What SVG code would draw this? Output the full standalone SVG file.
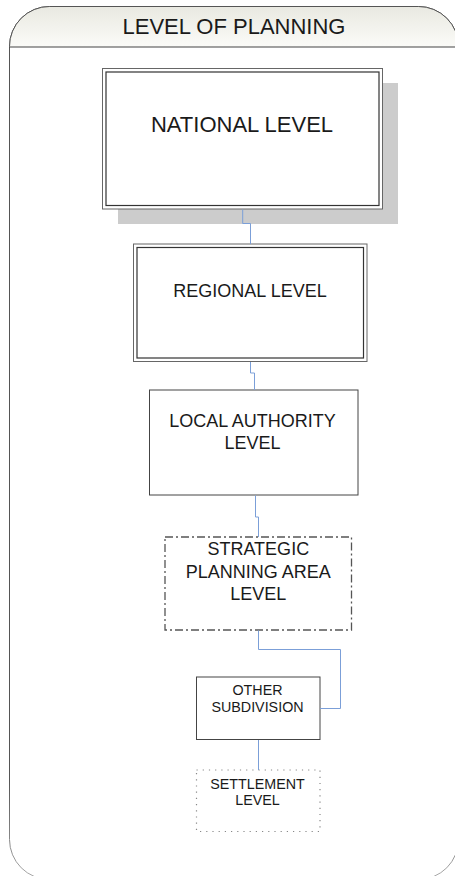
<svg xmlns="http://www.w3.org/2000/svg" width="455" height="876" viewBox="0 0 455 876">
  <defs>
    <linearGradient id="hdr" x1="0" y1="0" x2="0" y2="1">
      <stop offset="0" stop-color="#e9e9e1"/>
      <stop offset="1" stop-color="#fbfbf8"/>
    </linearGradient>
    <linearGradient id="frameStroke" gradientUnits="userSpaceOnUse" x1="0" y1="780" x2="0" y2="880">
      <stop offset="0" stop-color="#555555"/>
      <stop offset="1" stop-color="#aaaaaa"/>
    </linearGradient>
  </defs>
  <style>
    text { font-family: "Liberation Sans", Arial, sans-serif; fill: #1a1a1a; text-anchor: middle; }
    .conn { fill: none; stroke: #7b9fd8; stroke-width: 1; }
    .box { fill: #ffffff; }
    .outer { fill: none; stroke: #666666; stroke-width: 1; }
    .inner { fill: none; stroke: #333333; stroke-width: 1.2; }
    .single { fill: #ffffff; stroke: #444444; stroke-width: 1; }
    .dashdot { fill: #ffffff; stroke: #555555; stroke-width: 1.3; stroke-dasharray: 8 3 2 3; }
    .dotted { fill: #ffffff; stroke: #888888; stroke-width: 1.2; stroke-dasharray: 1.2 5; }
  </style>

  <g id="frame">
    <rect x="9.5" y="6.5" width="449" height="873" rx="40" ry="40" fill="#ffffff" stroke="url(#frameStroke)" stroke-width="1"/>
    <path d="M9.5,47 V46.5 A40,40 0 0 1 49.5,6.5 H418.5 A40,40 0 0 1 458.5,46.5 V47 Z" fill="url(#hdr)" stroke="none"/>
    <path d="M9.5,47 V46.5 A40,40 0 0 1 49.5,6.5 H418.5 A40,40 0 0 1 458.5,46.5" fill="none" stroke="#555555" stroke-width="1"/>
    <line x1="9.5" y1="47" x2="458.5" y2="47" stroke="#444444" stroke-width="1.2"/>
    <text x="234" y="33.5" font-size="22">LEVEL OF PLANNING</text>
  </g>

  <g id="national">
    <rect x="118" y="83" width="280" height="141" fill="#cccccc"/>
    <rect class="box" x="102.5" y="68.5" width="280" height="140.5"/>
    <rect class="outer" x="102.5" y="68.5" width="280" height="140.5"/>
    <rect class="inner" x="106" y="72" width="273" height="133.5"/>
    <text x="242" y="132" font-size="22">NATIONAL LEVEL</text>
  </g>

  <g id="regional">
    <rect class="box" x="133.5" y="244" width="233.5" height="117.5"/>
    <rect class="outer" x="133.5" y="244" width="233.5" height="117.5"/>
    <rect class="inner" x="137" y="247.5" width="226.5" height="110.5"/>
    <text x="250" y="297" font-size="18">REGIONAL LEVEL</text>
  </g>

  <g id="local">
    <rect class="single" x="149.5" y="390" width="208.5" height="105"/>
    <text x="252.5" y="427" font-size="18">LOCAL AUTHORITY</text>
    <text x="252.5" y="448.5" font-size="18">LEVEL</text>
  </g>

  <g id="strategic">
    <rect class="dashdot" x="165" y="537" width="186.5" height="93"/>
    <text x="258.3" y="555" font-size="18">STRATEGIC</text>
    <text x="258.3" y="577.5" font-size="18">PLANNING AREA</text>
    <text x="258.3" y="600" font-size="18">LEVEL</text>
  </g>

  <g id="other">
    <rect class="single" x="196.5" y="677" width="123.5" height="62.5"/>
    <text x="257.5" y="695" font-size="14.3">OTHER</text>
    <text x="257.5" y="712" font-size="14.3">SUBDIVISION</text>
  </g>

  <g id="settlement">
    <rect class="dotted" x="196.5" y="770" width="123.5" height="61.5"/>
    <text x="257.5" y="788.5" font-size="14.3">SETTLEMENT</text>
    <text x="257.5" y="805" font-size="14.3">LEVEL</text>
  </g>

  <g id="connectors">
    <path class="conn" d="M242.7,209.5 V223.5 H250.5 V244"/>
    <path class="conn" d="M250.5,362 V373 H254.5 V390"/>
    <path class="conn" d="M255.5,495.5 V517 H258.5 V537"/>
    <path class="conn" d="M258.5,630.5 V649.5 H340.5 V708.5 H320"/>
    <path class="conn" d="M258.5,740 V770"/>
  </g>
</svg>
